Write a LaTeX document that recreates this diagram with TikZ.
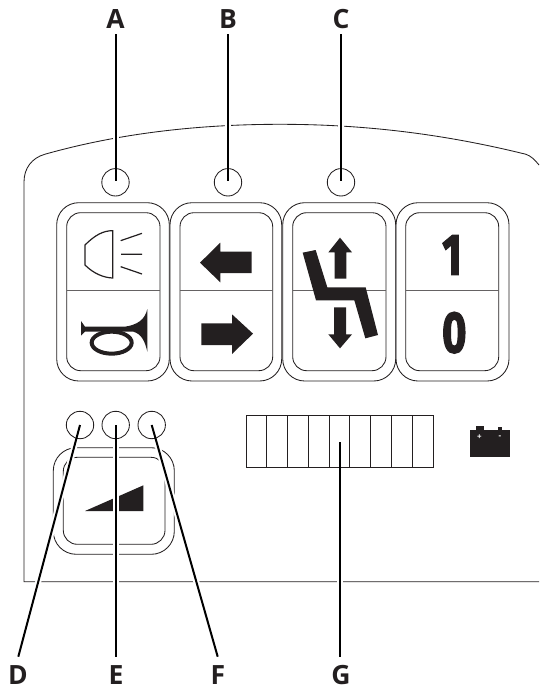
\documentclass[tikz,border=0pt]{standalone}
\usepackage{fontspec}
\newfontfamily\lblfont{Open Sans}
\newfontfamily\digfont{Fira Sans}
\definecolor{ink}{HTML}{231F20}
\newcommand{\heavytext}[1]{\special{pdf:code q 2 Tr 1.6 w}#1\special{pdf:code Q}}
\tikzset{
  thinline/.style={draw=ink,line width=0.85pt},
  outerkey/.style={thinline,rounded corners=22pt},
  innerkey/.style={thinline,rounded corners=14pt},
  midline/.style={draw=ink!70,line width=1pt},
  lamp/.style={thinline,circle,fill=none,minimum size=27.4pt,inner sep=0pt},
  callout/.style={font=\lblfont\bfseries\fontsize{26.5}{26.5}\selectfont,text=ink,inner sep=0pt},
  halo/.style={draw=white,line width=6pt},
  leader/.style={draw=black,line width=2pt},
  symb/.style={fill=ink,draw=none},
  digit/.style={font=\digfont\bfseries\fontsize{58}{58}\selectfont,text=ink,inner sep=0pt,xscale=0.72},
}
\begin{document}
\begin{tikzpicture}[x=1pt,y=-1pt]
\useasboundingbox (0,0) rectangle (539,690);
% panel
\draw[thinline] (539,581.7) -- (24,581.7) -- (24,182) .. controls (24,168) and (32,158) .. (44.7,154.3)
  .. controls (120,133) and (200,124.3) .. (280,124.3) .. controls (360,124.3) and (440,133) .. (526,154.3)
  .. controls (531,156) and (535,160) .. (539,165);
% keys
\foreach \oa/\ob/\ia/\ib in {56.7/169.3/66.7/160,170/281.7/180/272.7,282.7/395.7/292.7/386,396/509/405.7/498.7}{
  \draw[outerkey] (\oa,202.7) rectangle (\ob,381);
  \draw[innerkey] (\ia,212.7) rectangle (\ib,370.7);
  \draw[midline] (\ia,290.7) -- (\ib,290.7);
}
\draw[outerkey,rounded corners=23pt] (53.3,447.7) rectangle (174.3,554.3);
\draw[innerkey] (63.3,457.3) rectangle (165,544.3);
% symbols, left keys
\begin{scope}[shift={(40,190)},x=0.33333pt,y=-0.33333pt]
  \draw[thinline,line width=1.2pt] (218,122) .. controls (190,122) and (165,135) .. (135,165) -- (135,225)
     .. controls (160,250) and (190,263) .. (218,264) -- cycle;
  \draw[thinline,line width=1.2pt] (242,152) -- (306,130) (243,193) -- (306,193) (242,230) -- (306,252);
  \fill[symb] (480,218) -- (541,158) -- (541,185) -- (635,185) -- (635,249) -- (541,249) -- (541,277) -- cycle;
  \fill[symb] (639,431) -- (576,373) -- (576,400) -- (484,400) -- (484,465) -- (576,465) -- (576,492) -- cycle;
  \fill[symb] (123,393) -- (135,410) -- (255,410) .. controls (290,405) and (315,390) .. (322,357)
     -- (322,485) .. controls (315,455) and (305,432) .. (280,425) -- (135,425) -- (123,437) -- cycle;
  \draw[ink,line width=4pt] (215,458) ellipse [x radius=60,y radius=33];
\end{scope}
% symbols, right keys
\begin{scope}[shift={(270,190)},x=0.33333pt,y=-0.33333pt]
  \fill[symb] (210,143) -- (246,187) -- (229,187) -- (229,266) -- (194,266) -- (194,187) -- (175,187) -- cycle;
  \fill[symb] (210,475) -- (246,433) -- (228,433) -- (228,352) -- (192,352) -- (192,433) -- (175,433) -- cycle;
  \fill[symb] (98,188) -- (137,180) -- (172,292) -- (287,292) -- (324,435) -- (286,445) -- (253,331) -- (138,331) -- cycle;
\end{scope}
\node[digit] (one) at (452,255) {\heavytext{1}};
\node[digit] (zero) at (454.3,332.7) {\heavytext{0}};
% wedge
\begin{scope}[shift={(0,400)},x=0.33333pt,y=-0.33333pt]
  \fill[symb] (255,333) -- (430,256) -- (430,333) -- cycle;
\end{scope}
% gauge
\draw[thinline,line width=1pt] (246,415) rectangle (433,467);
\foreach \i in {1,...,8}{ \draw[thinline,line width=1pt] ({246+\i*20.78},415) -- ({246+\i*20.78},467); }
% battery
\fill[symb] (470,430) rectangle (510,457);
\fill[symb] (476,426) rectangle (484,431);
\fill[symb] (498,427) rectangle (502,431);
\node[text=white,font=\lblfont\bfseries\fontsize{8}{8}\selectfont,inner sep=0pt] (plus) at (479.3,437.3) {+};
\node[text=white,font=\lblfont\bfseries\fontsize{8}{8}\selectfont,inner sep=0pt] (minus) at (500,437.3) {-};
% labels
\node[callout] (lA) at (115.5,18.7) {A};
\node[callout] (lB) at (228,18.7) {B};
\node[callout] (lC) at (341,18.7) {C};
\node[callout] (lD) at (18,674.7) {D};
\node[callout] (lE) at (116,674.7) {E};
\node[callout] (lF) at (218,674.7) {F};
\node[callout] (lG) at (341,674.7) {G};
% end points
\coordinate (topA) at (115.5,34.3);
\coordinate (topB) at (228,34.3);
\coordinate (topC) at (341,34.3);
\coordinate (botD) at (18.3,656.7);
\coordinate (botE) at (115.7,656.7);
\coordinate (botF) at (217.7,656.7);
\coordinate (botG) at (339.5,656.7);
\coordinate (cA) at (115.5,180.5);
\coordinate (cB) at (228,180.5);
\coordinate (cC) at (341,180.5);
\coordinate (cD) at (80,425);
\coordinate (cE) at (115.7,425);
\coordinate (cF) at (151.7,425);
\coordinate (cG) at (339.5,442);
% halos
\foreach \a/\b in {topA/cA,topB/cB,topC/cC,botD/cD,botE/cE,botF/cF}{ \draw[halo] (\a) -- (\b); }
\draw[halo] (botG) -- (339.5,468);
% lamps
\node[lamp] (lampA) at (115.5,182.3) {};
\node[lamp] (lampB) at (228,182.3) {};
\node[lamp] (lampC) at (341,182.3) {};
\node[lamp] (lampD) at (80,425) {};
\node[lamp] (lampE) at (115.7,425) {};
\node[lamp] (lampF) at (151.7,425) {};
% leaders
\foreach \a/\b in {topA/cA,topB/cB,topC/cC,botD/cD,botE/cE,botF/cF,botG/cG}{ \draw[leader] (\a) -- (\b); }
\end{tikzpicture}
\end{document}
